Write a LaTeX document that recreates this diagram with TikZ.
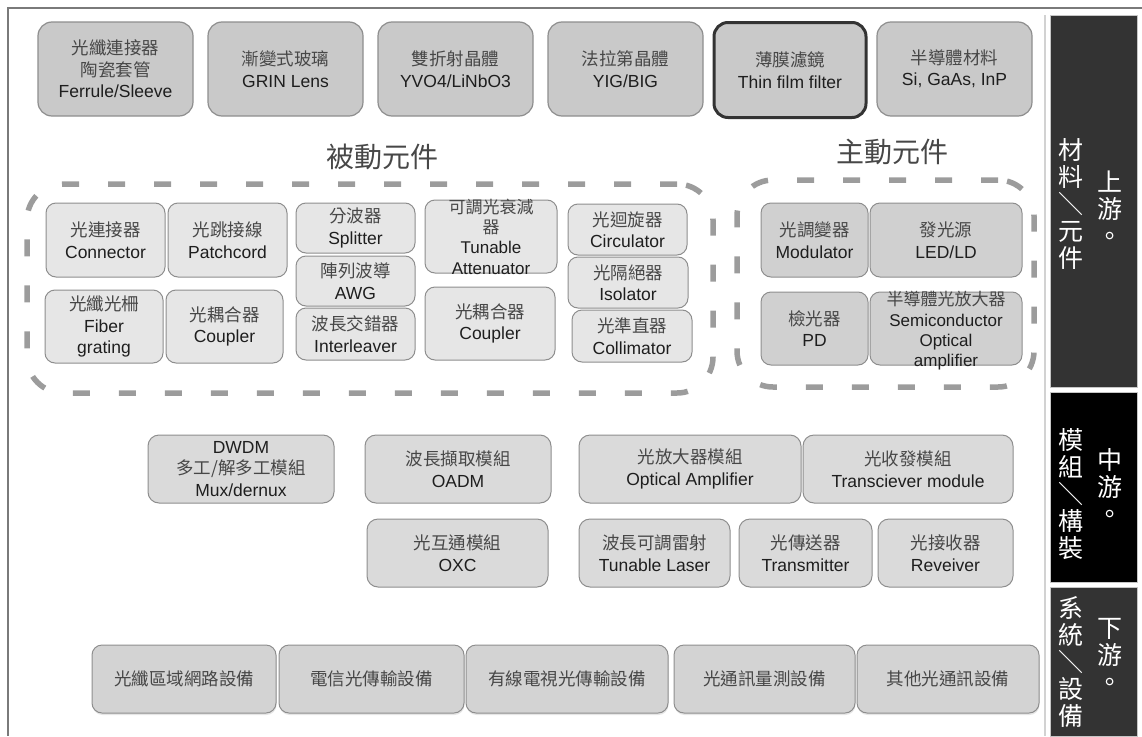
\documentclass[tikz,border=0pt]{standalone}
\usepackage{fontspec}
\setmainfont{Liberation Sans}
\newfontfamily\cjkfont{Noto Sans CJK TC}
\newcommand{\zh}[1]{{\cjkfont\color{black!72}#1}}
\newcommand{\vslash}{\smash{\rotatebox[origin=c]{-90}{／}}}
\usepackage{tikz}
\usetikzlibrary{shadows}
\definecolor{framegray}{HTML}{7A7A7A}
\definecolor{boxline}{HTML}{8E8E8E}
\definecolor{topfill}{HTML}{C9C9C9}
\definecolor{passfill}{HTML}{E6E6E6}
\definecolor{actfill}{HTML}{D0D0D0}
\definecolor{midfill}{HTML}{DADADA}
\definecolor{lowfill}{HTML}{D3D3D3}
\definecolor{dashgray}{HTML}{9C9C9C}
\definecolor{sidegray}{HTML}{333333}
\definecolor{textdark}{HTML}{1E1E1E}

\begin{document}
\begin{tikzpicture}[x=1pt,y=-1pt,
  every node/.style={align=center,inner sep=0pt,text=textdark,font=\fontsize{17.5}{21.5}\selectfont},
  topbox/.style={draw=boxline,fill=topfill,rounded corners=14pt,line width=1.2pt,minimum width=155pt,minimum height=94pt},
  passbox/.style={draw=boxline,fill=passfill,rounded corners=10pt,line width=1pt},
  actbox/.style={draw=boxline,fill=actfill,rounded corners=10pt,line width=1pt},
  midbox/.style={draw=boxline,fill=midfill,rounded corners=11pt,line width=1pt,minimum height=68pt},
  lowbox/.style={draw=boxline,fill=lowfill,rounded corners=10pt,line width=1pt,minimum height=68pt,
    drop shadow={opacity=0.2,shadow xshift=0.5pt,shadow yshift=-2pt}},
  grpdash/.style={draw=dashgray,line width=5.5pt,dash pattern=on 17pt off 29pt,rounded corners=36pt},
  heading/.style={font=\fontsize{28}{30}\selectfont},
  sidepanel/.style={draw=gray!45,line width=1pt,minimum width=87pt},
  sidetext/.style={text=white,font=\cjkfont\fontsize{25}{27}\selectfont}]
\useasboundingbox (0,0) rectangle (1142,736);
\draw[framegray,line width=2pt](1142,8)--(8,8)--(8,736);
\draw[gray!35,line width=1.5pt](1045,15)--(1045,736);
\node[topbox](ferrule)at(115.5,69){\zh{光纖連接器}\\\zh{陶瓷套管}\\Ferrule/Sleeve};
\node[topbox](grin)at(285.5,69){\zh{漸變式玻璃}\\GRIN Lens};
\node[topbox](yvo)at(455.5,69){\zh{雙折射晶體}\\YVO4/LiNbO3};
\node[topbox](yig)at(625.5,69){\zh{法拉第晶體}\\YIG/BIG};
\node[topbox,draw=black!80,line width=3pt,minimum width=152pt,minimum height=95pt](tff)at(790,70){\zh{薄膜濾鏡}\\Thin film filter};
\node[topbox](semi)at(954.5,69){\zh{半導體材料}\\Si, GaAs, InP};
\node[heading](passivetitle)at(382,157){\zh{被動元件}};
\node[heading](activetitle)at(892,152){\zh{主動元件}};
\node[grpdash,minimum width=686pt,minimum height=209pt](passive)at(370,288.5){};
\node[grpdash,minimum width=297pt,minimum height=207pt](active)at(885.5,283.5){};
\node[passbox,minimum width=119pt,minimum height=74pt](conn)at(105.5,240){\zh{光連接器}\\Connector};
\node[passbox,minimum width=119pt,minimum height=74pt](patch)at(227.5,240){\zh{光跳接線}\\Patchcord};
\node[passbox,minimum width=118pt,minimum height=73pt](fbg)at(104,326.5){\zh{光纖光柵}\\Fiber\\grating};
\node[passbox,minimum width=117pt,minimum height=73pt](coupa)at(224.5,326.5){\zh{光耦合器}\\Coupler};
\node[passbox,minimum width=119pt,minimum height=50pt](split)at(355.5,228){\zh{分波器}\\Splitter};
\node[passbox,minimum width=119pt,minimum height=50pt](awg)at(355.5,281){\zh{陣列波導}\\AWG};
\node[passbox,minimum width=119pt,minimum height=52pt](inter)at(355.5,334){\zh{波長交錯器}\\Interleaver};
\node[passbox,minimum width=132pt,minimum height=73pt](voa)at(491,236.5){};
\node[font=\fontsize{17}{20.3}\selectfont](voatext)at(voa){\zh{可調光衰減}\\\zh{器}\\Tunable\\Attenuator};
\node[passbox,minimum width=130pt,minimum height=73pt](coupb)at(490,323.5){\zh{光耦合器}\\Coupler};
\node[passbox,minimum width=119pt,minimum height=51pt](circ)at(627.5,229.5){\zh{光迴旋器}\\Circulator};
\node[passbox,minimum width=120pt,minimum height=51pt](iso)at(628,282.5){\zh{光隔絕器}\\Isolator};
\node[passbox,minimum width=120pt,minimum height=52pt](coll)at(632,336){\zh{光準直器}\\Collimator};
\node[actbox,minimum width=107pt,minimum height=74pt](mod)at(814.5,240){\zh{光調變器}\\Modulator};
\node[actbox,minimum width=152pt,minimum height=74pt](led)at(946,240){\zh{發光源}\\LED/LD};
\node[actbox,minimum width=107pt,minimum height=73pt](pd)at(814.5,328.5){\zh{檢光器}\\PD};
\node[actbox,minimum width=152pt,minimum height=73pt](soa)at(946,328.5){};
\node[font=\fontsize{17}{20.3}\selectfont](soatext)at(946,331){\zh{半導體光放大器}\\Semiconductor\\Optical\\amplifier};
\node[midbox,minimum width=186pt](dwdm)at(241,469){DWDM\\\zh{多工/解多工模組}\\Mux/dernux};
\node[midbox,minimum width=186pt](oadm)at(458,469){\zh{波長擷取模組}\\OADM};
\node[midbox,minimum width=181pt](oxc)at(457.5,553){\zh{光互通模組}\\OXC};
\node[midbox,minimum width=222pt](oamp)at(690,469){\zh{光放大器模組}\\Optical Amplifier};
\node[midbox,minimum width=210pt](trx)at(908,469){\zh{光收發模組}\\Transciever module};
\node[midbox,minimum width=151pt](tlaser)at(654.5,553){\zh{波長可調雷射}\\Tunable Laser};
\node[midbox,minimum width=133pt](tx)at(805.5,553){\zh{光傳送器}\\Transmitter};
\node[midbox,minimum width=135pt](rx)at(945.5,553){\zh{光接收器}\\Reveiver};
\node[lowbox,minimum width=184pt](lan)at(184,679){\zh{光纖區域網路設備}};
\node[lowbox,minimum width=185pt](telecom)at(371.5,679){\zh{電信光傳輸設備}};
\node[lowbox,minimum width=202pt](catv)at(567,679){\zh{有線電視光傳輸設備}};
\node[lowbox,minimum width=181pt](measure)at(764.5,679){\zh{光通訊量測設備}};
\node[lowbox,minimum width=182pt](other)at(948,679){\zh{其他光通訊設備}};
\node[sidepanel,fill=sidegray,minimum height=372pt](upstream)at(1093.5,201){};
\node[sidepanel,fill=black,minimum height=190pt](midstream)at(1093.5,487){};
\node[sidepanel,fill=sidegray,minimum height=149pt](downstream)at(1093.5,661.5){};
\node[sidetext](upname)at(1110,208){上\\游\\。};
\node[sidetext](upkind)at(1071,204){材\\料\\\vslash\\元\\件};
\node[sidetext](midname)at(1110,486){中\\游\\。};
\node[sidetext](midkind)at(1071,494){模\\組\\\vslash\\構\\裝};
\node[sidetext](downname)at(1110,655){下\\游\\。};
\node[sidetext](downkind)at(1071,662){系\\統\\\vslash\\設\\備};
\end{tikzpicture}
\end{document}
